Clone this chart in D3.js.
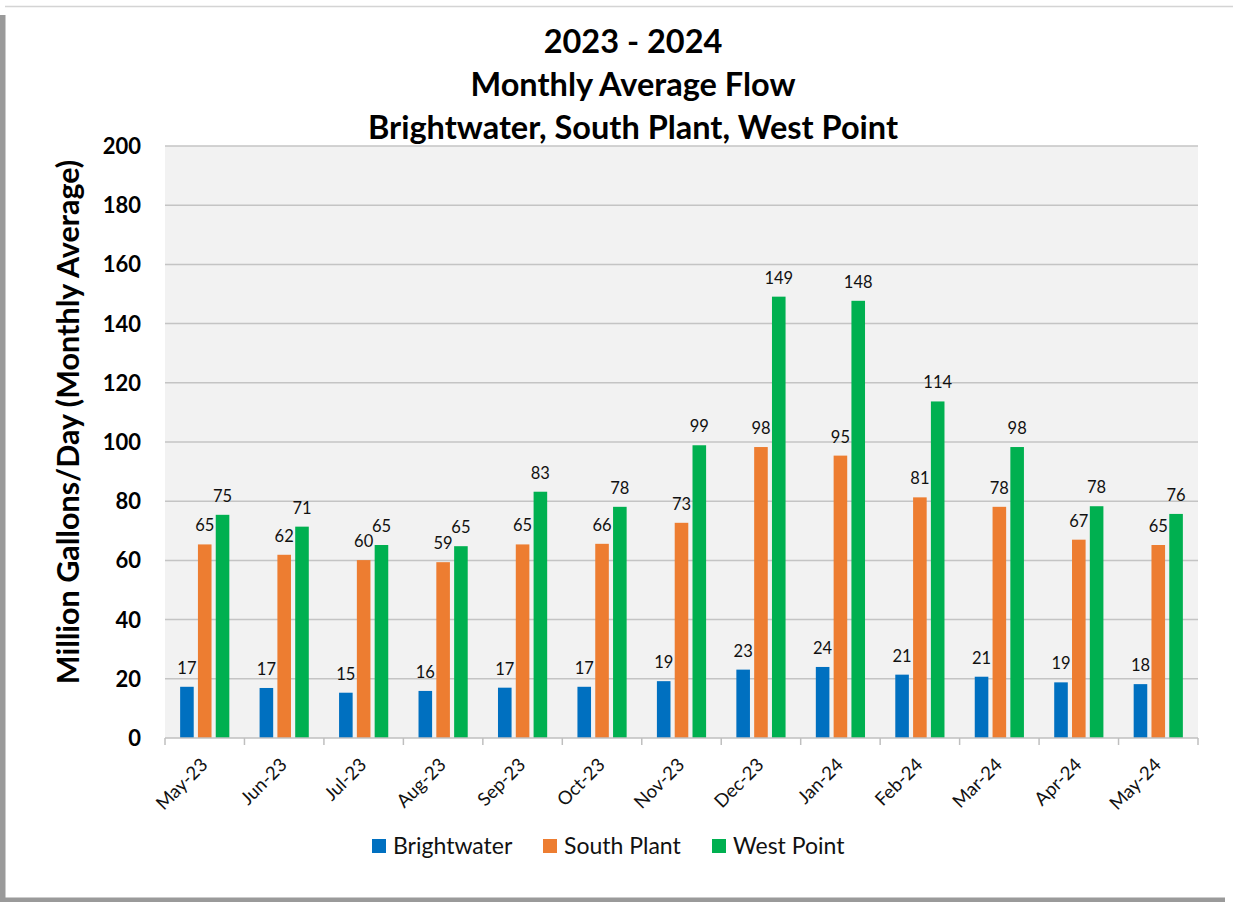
<!DOCTYPE html>
<html>
<head>
<meta charset="utf-8">
<script src="https://cdn.jsdelivr.net/npm/d3@7"></script>
<style>
  html, body { margin: 0; padding: 0; background: #fff; }
  svg { display: block; font-family: Lato, "Open Sans", sans-serif; }
</style>
</head>
<body>
<svg id="chart" width="1233" height="902"></svg>
<script>
const months = ["May-23","Jun-23","Jul-23","Aug-23","Sep-23","Oct-23","Nov-23","Dec-23","Jan-24","Feb-24","Mar-24","Apr-24","May-24"];
const seriesNames = ["Brightwater","South Plant","West Point"];
const brightwater = [17.3, 16.9, 15.3, 15.9, 17.0, 17.3, 19.2, 23.1, 24.0, 21.4, 20.7, 18.8, 18.2];
const southPlant  = [65.4, 61.9, 60.1, 59.4, 65.4, 65.6, 72.7, 98.3, 95.4, 81.3, 78.1, 67.0, 65.2];
const westPoint   = [75.4, 71.4, 65.2, 64.8, 83.2, 78.1, 98.9, 149.1, 147.7, 113.7, 98.3, 78.3, 75.7];
const yTicks = [0, 20, 40, 60, 80, 100, 120, 140, 160, 180, 200];
const titleLines = ["2023 - 2024", "Monthly Average Flow", "Brightwater, South Plant, West Point"];
const yLabel = "Million Gallons/Day (Monthly Average)";
const colors = ["#0070c0", "#ed7d31", "#00b050"];

const values = [brightwater, southPlant, westPoint];
const svg = d3.select("#chart");

// frame
svg.append("rect").attr("x", 0).attr("y", 0).attr("width", 1233).attr("height", 902).attr("fill", "#fff");
svg.append("line").attr("x1", 5).attr("x2", 1233).attr("y1", 6.5).attr("y2", 6.5).attr("stroke", "#d4d4d4").attr("stroke-width", 1.5);
svg.append("rect").attr("x", 0).attr("y", 15).attr("width", 5.5).attr("height", 887).attr("fill", "#9a9a9a");
svg.append("rect").attr("x", 0).attr("y", 897.5).attr("width", 1225).attr("height", 4.5).attr("fill", "#9a9a9a");

const plotL = 165, plotR = 1198, plotT = 146, plotB = 738;

const x = d3.scaleBand().domain(months).range([plotL, plotR]).paddingInner(0).paddingOuter(0);
const xi = d3.scaleBand().domain(seriesNames).range([0, x.bandwidth()]).paddingInner(0.237).paddingOuter(0.85);
const y = d3.scaleLinear().domain([0, 200]).range([plotB, plotT]);

// plot background
svg.append("rect").attr("x", plotL).attr("y", plotT).attr("width", plotR - plotL).attr("height", plotB - plotT).attr("fill", "#f2f2f2");

// gridlines
svg.append("g").selectAll("line").data(yTicks.filter(d => d > 0)).join("line")
  .attr("x1", plotL).attr("x2", plotR)
  .attr("y1", d => y(d)).attr("y2", d => y(d))
  .attr("stroke", "#c4c4c4").attr("stroke-width", 1.5);

// y tick labels
svg.append("g").selectAll("text").data(yTicks).join("text")
  .attr("x", 141).attr("y", d => y(d)).attr("dy", "0.36em")
  .attr("text-anchor", "end").attr("font-size", 22).attr("font-weight", "bold").attr("fill", "#000")
  .text(d => d);

// bars
seriesNames.forEach((s, si) => {
  const g = svg.append("g");
  g.selectAll("rect").data(months).join("rect")
    .attr("x", (m) => x(m) + xi(s))
    .attr("width", xi.bandwidth())
    .attr("y", (m, i) => y(values[si][i]))
    .attr("height", (m, i) => y(0) - y(values[si][i]))
    .attr("fill", colors[si]);
  g.selectAll("text").data(months).join("text")
    .attr("x", (m) => x(m) + xi(s) + xi.bandwidth() / 2)
    .attr("y", (m, i) => y(values[si][i]) - 13)
    .attr("text-anchor", "middle").attr("font-size", 16.5).attr("fill", "#111")
    .text((m, i) => Math.round(values[si][i]));
});

// x axis line and ticks
svg.append("line").attr("x1", plotL).attr("x2", plotR).attr("y1", plotB).attr("y2", plotB)
  .attr("stroke", "#bfbfbf").attr("stroke-width", 1.5);
const boundaries = months.map(m => x(m)).concat([plotR]);
svg.append("g").selectAll("line").data(boundaries).join("line")
  .attr("x1", d => d).attr("x2", d => d).attr("y1", plotB).attr("y2", plotB + 7)
  .attr("stroke", "#bfbfbf").attr("stroke-width", 1.5);

// x labels
svg.append("g").selectAll("text").data(months).join("text")
  .attr("transform", m => `translate(${x(m) + x.bandwidth() / 2 + 4},766) rotate(-45)`)
  .attr("text-anchor", "end").attr("font-size", 18.5).attr("fill", "#111")
  .text(m => m);

// title
svg.append("g").selectAll("text").data(titleLines).join("text")
  .attr("x", 633).attr("y", (d, i) => 53 + i * 43)
  .attr("text-anchor", "middle").attr("font-size", 32.5).attr("font-weight", "bold").attr("fill", "#000")
  .text(d => d);

// y label
svg.append("text")
  .attr("transform", "translate(79,422) rotate(-90)")
  .attr("text-anchor", "middle").attr("font-size", 30.5).attr("font-weight", "bold").attr("fill", "#000")
  .text(yLabel);

// legend
const legendX = [372, 543, 712];
const lg = svg.append("g").selectAll("g").data(seriesNames).join("g")
  .attr("transform", (d, i) => `translate(${legendX[i]},839)`);
lg.append("rect").attr("width", 14).attr("height", 14).attr("fill", (d, i) => colors[i]);
lg.append("text").attr("x", 21).attr("y", 14.5).attr("font-size", 23).attr("fill", "#111").text(d => d);
</script>
</body>
</html>
